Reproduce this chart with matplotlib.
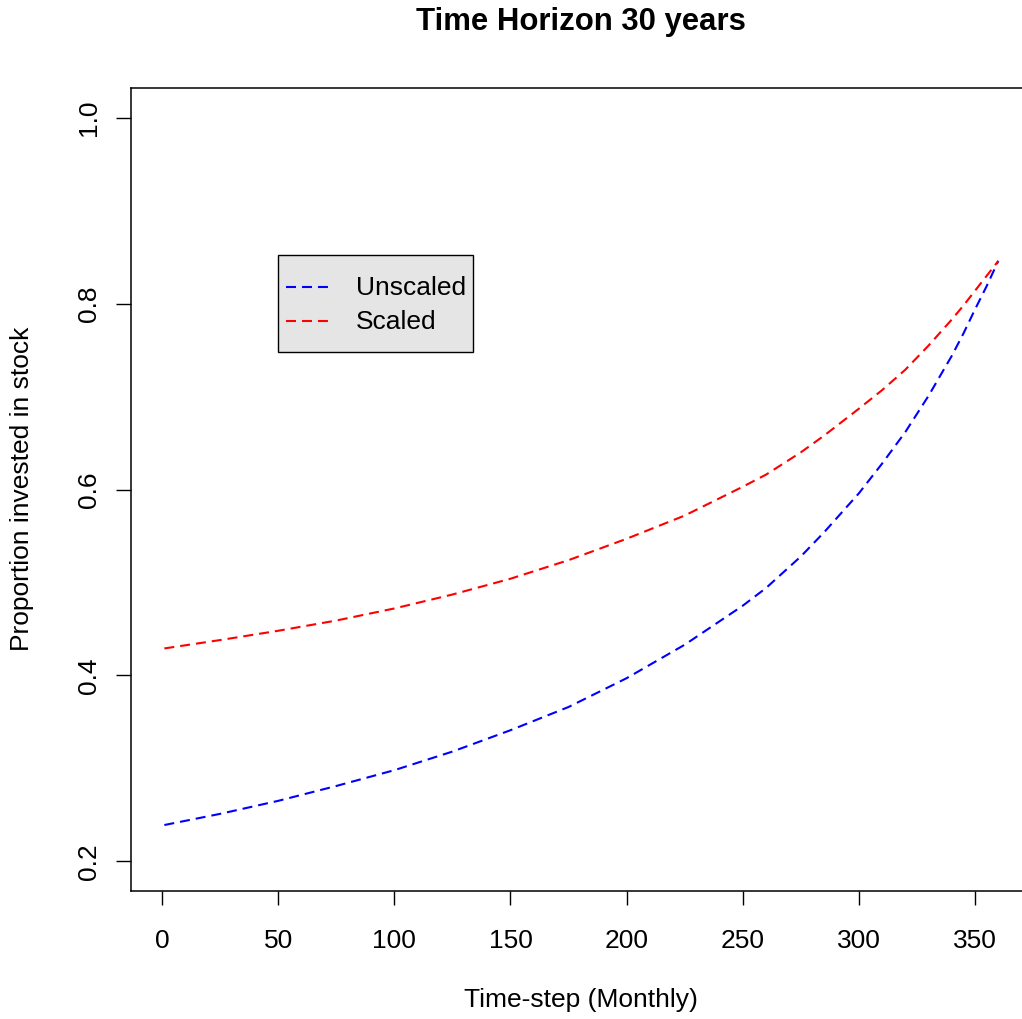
import matplotlib
matplotlib.use("Agg")
import matplotlib.pyplot as plt

plt.rcParams['font.family'] = ['Liberation Sans', 'DejaVu Sans']
plt.rcParams['lines.scale_dashes'] = False

# monthly time steps and the stock share for each strategy
steps = [1, 25, 50, 75, 100, 125, 150, 175, 200, 225, 250, 260, 275, 285,
         300, 310, 320, 330, 340, 345, 350, 355, 360]
unscaled = [0.239, 0.251, 0.265, 0.281, 0.298, 0.318, 0.341, 0.366, 0.397, 0.433,
            0.475, 0.494, 0.528, 0.554, 0.596, 0.628, 0.662, 0.701, 0.744, 0.768,
            0.794, 0.819, 0.846]
scaled = [0.429, 0.438, 0.448, 0.459, 0.472, 0.487, 0.504, 0.524, 0.547, 0.572,
          0.603, 0.616, 0.640, 0.658, 0.687, 0.707, 0.729, 0.755, 0.783, 0.798,
          0.814, 0.830, 0.846]

xticks = [0, 50, 100, 150, 200, 250, 300, 350]
yticks = [0.2, 0.4, 0.6, 0.8, 1.0]

W, H = 1022, 1019
fig = plt.figure(figsize=(W / 100, H / 100), dpi=100)
# plot box runs a little past the right edge of the image
ax = fig.add_axes([131 / W, 128 / H, (1031.7 - 131) / W, 803 / H])

dash = (0, (7.2, 4.3))
ax.plot(steps, unscaled, color='blue', lw=1.5, linestyle=dash, label='Unscaled')
ax.plot(steps, scaled, color='red', lw=1.5, linestyle=dash, label='Scaled')

ax.set_xlim(-13.36, 374.36)
ax.set_ylim(0.168, 1.032)
ax.set_xticks(xticks)
ax.set_xticklabels([str(t) for t in xticks])
ax.set_yticks(yticks)
ax.set_yticklabels([f"{t:.1f}" for t in yticks], rotation=90, va='center')
ax.tick_params(axis='x', length=10, width=1.0, labelsize=19, pad=17)
ax.tick_params(axis='y', length=10.5, width=1.0, labelsize=19, pad=11)
for s in ax.spines.values():
    s.set_linewidth(1.1)

leg = ax.legend(loc='upper left', bbox_to_anchor=(50, 0.852), bbox_transform=ax.transData,
                fancybox=False, edgecolor='black', facecolor='#E5E5E5', framealpha=1,
                borderaxespad=0, fontsize=19, handlelength=1.8, handletextpad=0.85,
                borderpad=0.28, handleheight=2.4, labelspacing=-0.5)
leg.get_frame().set_linewidth(1.0)
# tall handle boxes push the sample lines up; bring them level with the labels
for ln in leg.get_lines():
    ln.set_ydata([v - 5.8 for v in ln.get_ydata()])

fig.text(581 / W, 1 - 22 / H, 'Time Horizon 30 years', ha='center', va='center',
         fontsize=22.4, fontweight='bold')
fig.text(581 / W, 1 - 1000 / H, 'Time-step (Monthly)', ha='center', va='center', fontsize=19)
fig.text(22 / W, 1 - 489 / H, 'Proportion invested in stock', ha='center', va='center',
         rotation=90, fontsize=19)

fig.savefig('out.png', dpi=100)
